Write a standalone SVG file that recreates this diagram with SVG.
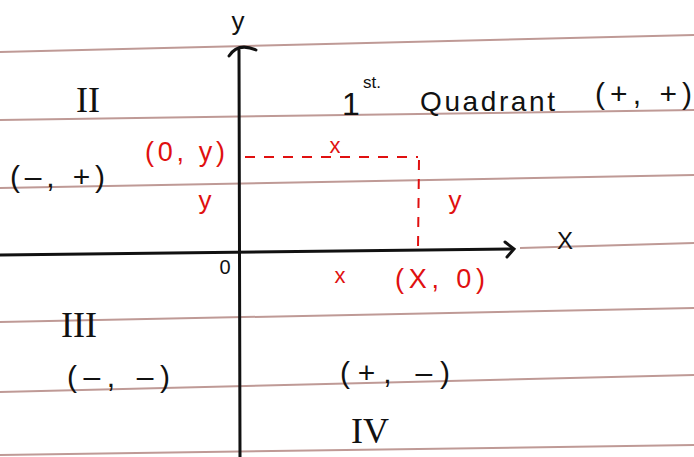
<svg xmlns="http://www.w3.org/2000/svg" width="694" height="457" viewBox="0 0 694 457">
<style>
.rule{stroke:#bf9a96;stroke-width:2;fill:none}
.axis{stroke:#111;stroke-width:3;fill:none;stroke-linecap:round}
.dash{stroke:#e01010;stroke-width:2;fill:none;stroke-dasharray:10 9}
.k{fill:#111;font-family:"Liberation Sans",sans-serif}
.r{fill:#e01010;font-family:"Liberation Sans",sans-serif}
.rom{fill:#111;font-family:"Liberation Serif",serif}
</style>
<rect width="694" height="457" fill="#ffffff"/>
<g id="rules">
<line class="rule" x1="0" y1="52" x2="694" y2="35"/>
<line class="rule" x1="0" y1="120" x2="694" y2="110"/>
<line class="rule" x1="0" y1="188" x2="694" y2="175"/>
<line class="rule" x1="0" y1="322" x2="694" y2="308"/>
<line class="rule" x1="0" y1="392" x2="694" y2="375"/>
<line class="rule" x1="0" y1="455" x2="694" y2="445"/>
<line class="rule" x1="520" y1="248" x2="694" y2="243"/>
</g>
<g id="connectors">
<line class="axis" x1="239" y1="50" x2="240" y2="457"/>
<path class="axis" d="M229,56 Q238,42 256,50"/>
<line class="axis" x1="0" y1="255" x2="513" y2="249"/>
<path class="axis" d="M505,242 L514,249 L507,257"/>
<line class="dash" x1="245" y1="157" x2="418" y2="157"/>
<line class="dash" x1="419" y1="160" x2="418" y2="249"/>
</g>
<g id="y-label"><text class="k" x="238" y="30" font-size="26" text-anchor="middle">y</text></g>
<g id="x-label"><text class="k" x="565" y="249" font-size="24" text-anchor="middle">X</text></g>
<g id="origin"><text class="k" x="225" y="274" font-size="20" text-anchor="middle">0</text></g>
<g id="q1">
<text class="k" x="342" y="115" font-size="32">1</text>
<text class="k" x="363" y="88" font-size="17">st.</text>
<text class="k" x="420" y="111" font-size="28" textLength="135" lengthAdjust="spacing">Quadrant</text>
<text class="k" x="595" y="104" font-size="30" textLength="97" lengthAdjust="spacing">(+, +)</text>
</g>
<g id="q2">
<text class="rom" x="88" y="112" font-size="36" text-anchor="middle">II</text>
<text class="k" x="10" y="187" font-size="30" textLength="95" lengthAdjust="spacing">(–, +)</text>
</g>
<g id="q3">
<text class="rom" x="79" y="337" font-size="36" text-anchor="middle">III</text>
<text class="k" x="67" y="387" font-size="30" textLength="103" lengthAdjust="spacing">(–, –)</text>
</g>
<g id="q4">
<text class="k" x="340" y="383" font-size="30" textLength="110" lengthAdjust="spacing">(+, –)</text>
<text class="rom" x="370" y="443" font-size="36" text-anchor="middle">IV</text>
</g>
<g id="point-labels">
<text class="r" x="145" y="161" font-size="27" textLength="80" lengthAdjust="spacing">(0, y)</text>
<text class="r" x="335" y="153" font-size="22" text-anchor="middle">x</text>
<text class="r" x="205" y="209" font-size="26" text-anchor="middle">y</text>
<text class="r" x="455" y="209" font-size="26" text-anchor="middle">y</text>
<text class="r" x="340" y="283" font-size="22" text-anchor="middle">x</text>
<text class="r" x="395" y="288" font-size="27" textLength="90" lengthAdjust="spacing">(X, 0)</text>
</g>
</svg>
